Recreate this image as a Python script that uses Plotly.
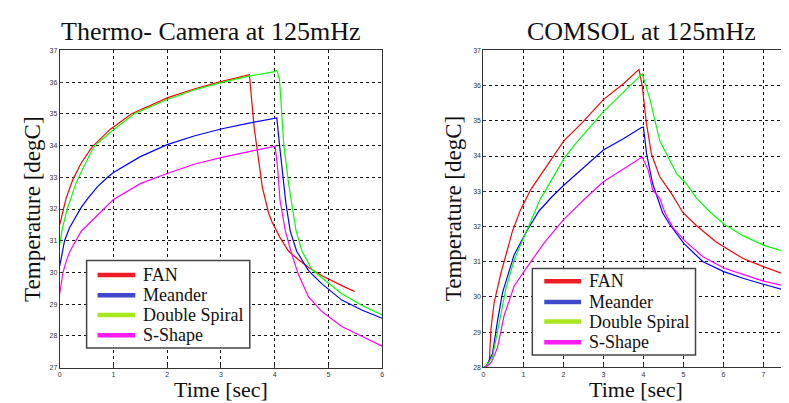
import plotly.graph_objects as go

# ---------------- data: Thermo-camera (left) ----------------
cam_fan_t = [0, 0.03, 0.07, 0.12, 0.25, 0.4, 0.6, 0.93, 1.34, 2.0, 2.5, 2.96, 3.53, 3.62, 3.69, 3.77, 3.89, 3.95, 4.1, 4.26, 4.44, 4.63, 4.88, 5.12, 5.31, 5.49]
cam_fan_T = [31.5, 31.75, 32.0, 32.35, 32.95, 33.45, 33.95, 34.5, 35.0, 35.5, 35.78, 36.0, 36.23, 34.55, 33.72, 32.69, 31.86, 31.6, 31.1, 30.67, 30.41, 30.16, 29.9, 29.69, 29.54, 29.4]

cam_ds_t = [0, 0.05, 0.14, 0.2, 0.3, 0.45, 0.65, 1.0, 1.39, 2.0, 2.5, 3.0, 3.5, 4.0, 4.04, 4.09, 4.17, 4.26, 4.35, 4.4, 4.51, 4.69, 4.94, 5.25, 5.62, 6.0]
cam_ds_T = [30.88, 31.4, 32.0, 32.33, 32.8, 33.35, 34.0, 34.5, 35.0, 35.45, 35.75, 35.98, 36.18, 36.33, 36.37, 36.09, 34.03, 32.8, 31.86, 31.3, 30.67, 30.1, 29.75, 29.33, 28.97, 28.66]

cam_me_t = [0, 0.04, 0.09, 0.18, 0.28, 0.4, 0.52, 0.7, 0.89, 1.0, 1.5, 2.0, 2.5, 3.0, 3.5, 4.04, 4.09, 4.15, 4.21, 4.29, 4.41, 4.63, 4.88, 5.25, 5.62, 6.0]
cam_me_T = [30.21, 30.6, 31.0, 31.4, 31.7, 32.05, 32.33, 32.7, 33.0, 33.15, 33.65, 34.03, 34.3, 34.52, 34.7, 34.87, 34.03, 33.0, 32.17, 31.3, 30.67, 30.06, 29.64, 29.13, 28.82, 28.56]

cam_ss_t = [0, 0.03, 0.06, 0.12, 0.19, 0.4, 0.71, 1.0, 1.5, 2.0, 2.5, 3.0, 3.5, 4.01, 4.06, 4.1, 4.2, 4.32, 4.44, 4.63, 4.88, 5.25, 5.62, 6.0]
cam_ss_T = [29.33, 29.7, 30.0, 30.35, 30.67, 31.3, 31.8, 32.3, 32.8, 33.12, 33.41, 33.62, 33.8, 33.98, 33.2, 32.27, 31.3, 30.57, 29.95, 29.23, 28.77, 28.3, 27.99, 27.68]

# ---------------- data: COMSOL (right) ----------------
com_fan_t = [0, 0.06, 0.15, 0.19, 0.27, 0.44, 0.73, 0.92, 1.18, 1.51, 2.01, 2.43, 3.0, 3.5, 3.89, 3.97, 4.07, 4.2, 4.41, 4.7, 4.99, 5.33, 5.82, 6.49, 7.0, 7.8]
com_fan_T = [28.0, 28.0, 28.2, 29.1, 29.85, 30.68, 31.88, 32.45, 33.04, 33.6, 34.43, 34.9, 35.6, 36.05, 36.46, 36.0, 34.98, 34.06, 33.41, 32.94, 32.39, 32.02, 31.56, 31.09, 30.86, 30.53]

com_ds_t = [0, 0.08, 0.23, 0.4, 0.56, 0.77, 1.02, 1.22, 1.43, 1.51, 2.01, 2.26, 3.0, 3.58, 3.97, 4.16, 4.41, 4.83, 5.07, 5.33, 5.66, 6.01, 6.49, 7.0, 7.8]
com_ds_T = [28.0, 28.05, 28.3, 29.3, 30.22, 31.05, 31.7, 32.25, 32.8, 32.94, 33.92, 34.29, 35.26, 35.9, 36.33, 35.63, 34.43, 33.5, 33.22, 32.8, 32.42, 32.07, 31.74, 31.47, 31.19]

com_me_t = [0, 0.08, 0.23, 0.35, 0.48, 0.77, 1.1, 1.39, 1.72, 2.01, 3.0, 3.5, 3.95, 4.0, 4.08, 4.23, 4.48, 4.65, 5.01, 5.49, 6.01, 6.49, 7.0, 7.8]
com_me_T = [28.0, 28.05, 28.4, 29.3, 30.13, 31.2, 31.9, 32.44, 32.85, 33.17, 34.17, 34.49, 34.81, 34.82, 34.06, 33.22, 32.39, 32.07, 31.52, 31.0, 30.72, 30.53, 30.36, 30.11]

com_ss_t = [0, 0.08, 0.2, 0.35, 0.52, 0.77, 1.1, 1.51, 2.01, 2.55, 3.0, 3.5, 3.97, 4.12, 4.23, 4.41, 4.54, 4.74, 5.03, 5.49, 6.01, 6.49, 7.0, 7.8]
com_ss_T = [28.0, 28.02, 28.15, 28.55, 29.48, 30.31, 30.86, 31.52, 32.2, 32.8, 33.27, 33.64, 33.97, 33.6, 33.04, 32.8, 32.39, 31.97, 31.6, 31.14, 30.82, 30.64, 30.45, 30.24]

series_names = ["FAN", "Meander", "Double Spiral", "S-Shape"]
line_colors = ["#ff0000", "#0000ff", "#00ff00", "#ff00ff"]
legend_colors = ["#ee1c24", "#3f48cc", "#a8e61d", "#ff1cf0"]

left_x_ticks = [0, 1, 2, 3, 4, 5, 6]
left_y_ticks = [27, 28, 29, 30, 31, 32, 33, 34, 35, 36, 37]
right_x_ticks = [0, 1, 2, 3, 4, 5, 6, 7]
right_y_ticks = [28, 29, 30, 31, 32, 33, 34, 35, 36, 37]

W, H = 789, 403
fig = go.Figure()

cam = [(cam_fan_t, cam_fan_T), (cam_me_t, cam_me_T), (cam_ds_t, cam_ds_T), (cam_ss_t, cam_ss_T)]
com = [(com_fan_t, com_fan_T), (com_me_t, com_me_T), (com_ds_t, com_ds_T), (com_ss_t, com_ss_T)]

for i, (t, T) in enumerate(cam):
    fig.add_trace(go.Scatter(x=t, y=T, mode="lines", name=series_names[i],
                             line=dict(color=line_colors[i], width=1.2),
                             xaxis="x", yaxis="y", showlegend=False))
for i, (t, T) in enumerate(com):
    fig.add_trace(go.Scatter(x=t, y=T, mode="lines", name=series_names[i],
                             line=dict(color=line_colors[i], width=1.2),
                             xaxis="x2", yaxis="y2", showlegend=False))


def px_x(p):
    return p / W


def px_y(p):
    return (H - p) / H


axis_common = dict(
    showline=True, linecolor="#333333", linewidth=1, mirror=True,
    showgrid=True, gridcolor="#111111", gridwidth=1, griddash="3px,3px",
    ticks="inside", ticklen=3, tickcolor="#333333",
    tickfont=dict(family="Liberation Sans", size=7, color="#333333"),
    zeroline=False,
)

fig.update_layout(
    width=W, height=H,
    margin=dict(l=0, r=0, t=0, b=0),
    paper_bgcolor="white", plot_bgcolor="white",
    showlegend=False,
    xaxis=dict(axis_common, domain=[px_x(50), px_x(374)], range=[0, 6], tickvals=left_x_ticks,
               anchor="y"),
    yaxis=dict(axis_common, domain=[px_y(362), px_y(39)], range=[27, 37], tickvals=left_y_ticks,
               anchor="x"),
    xaxis2=dict(axis_common, domain=[px_x(475.8), 1.0], range=[0, 7.79], tickvals=right_x_ticks,
                anchor="y2"),
    yaxis2=dict(axis_common, domain=[px_y(361.7), px_y(39)], range=[28, 37], tickvals=right_y_ticks,
                anchor="x2", mirror=False),
)

serif = "Liberation Serif"

# manual legends (box, thick line samples, labels) in paper pixel positions
legends = [
    dict(box=(77, 253, 241, 342), rows=[267.7, 288.3, 308.3, 329], lx=(88, 126), tx=131.5),
    dict(box=(525, 261, 689, 349), rows=[274, 295, 315, 336], lx=(537, 574), tx=580),
]
for lg in legends:
    x0, y0, x1, y1 = lg["box"]
    fig.add_shape(type="rect", xref="paper", yref="paper",
                  x0=px_x(x0), x1=px_x(x1), y0=px_y(y1), y1=px_y(y0),
                  line=dict(color="#444444", width=1.5), fillcolor="white", layer="above")
    for i, ry in enumerate(lg["rows"]):
        fig.add_shape(type="line", xref="paper", yref="paper",
                      x0=px_x(lg["lx"][0]), x1=px_x(lg["lx"][1]), y0=px_y(ry), y1=px_y(ry),
                      line=dict(color=legend_colors[i], width=4.5), layer="above")
        fig.add_annotation(text=series_names[i], x=px_x(lg["tx"]), y=px_y(ry), xref="paper", yref="paper",
                           xanchor="left", yanchor="middle", showarrow=False,
                           font=dict(family=serif, size=18, color="#111111"))

ann = [
    dict(text="Thermo- Camera at 125mHz", x=px_x(202), y=px_y(20), size=26),
    dict(text="COMSOL at 125mHz", x=px_x(635), y=px_y(20), size=26),
    dict(text="Time [sec]", x=px_x(212), y=px_y(384), size=22),
    dict(text="Time [sec]", x=px_x(629), y=px_y(384), size=22),
]
for a in ann:
    fig.add_annotation(text=a["text"], x=a["x"], y=a["y"], xref="paper", yref="paper",
                       xanchor="center", yanchor="middle", showarrow=False,
                       font=dict(family=serif, size=a["size"], color="#111111"))
for xc in (22.5, 446):
    fig.add_annotation(text="Temperature [degC]", x=px_x(xc), y=px_y(200), xref="paper", yref="paper",
                       xanchor="center", yanchor="middle", showarrow=False, textangle=-90,
                       font=dict(family=serif, size=23, color="#111111"))

fig.write_html("out.html")
